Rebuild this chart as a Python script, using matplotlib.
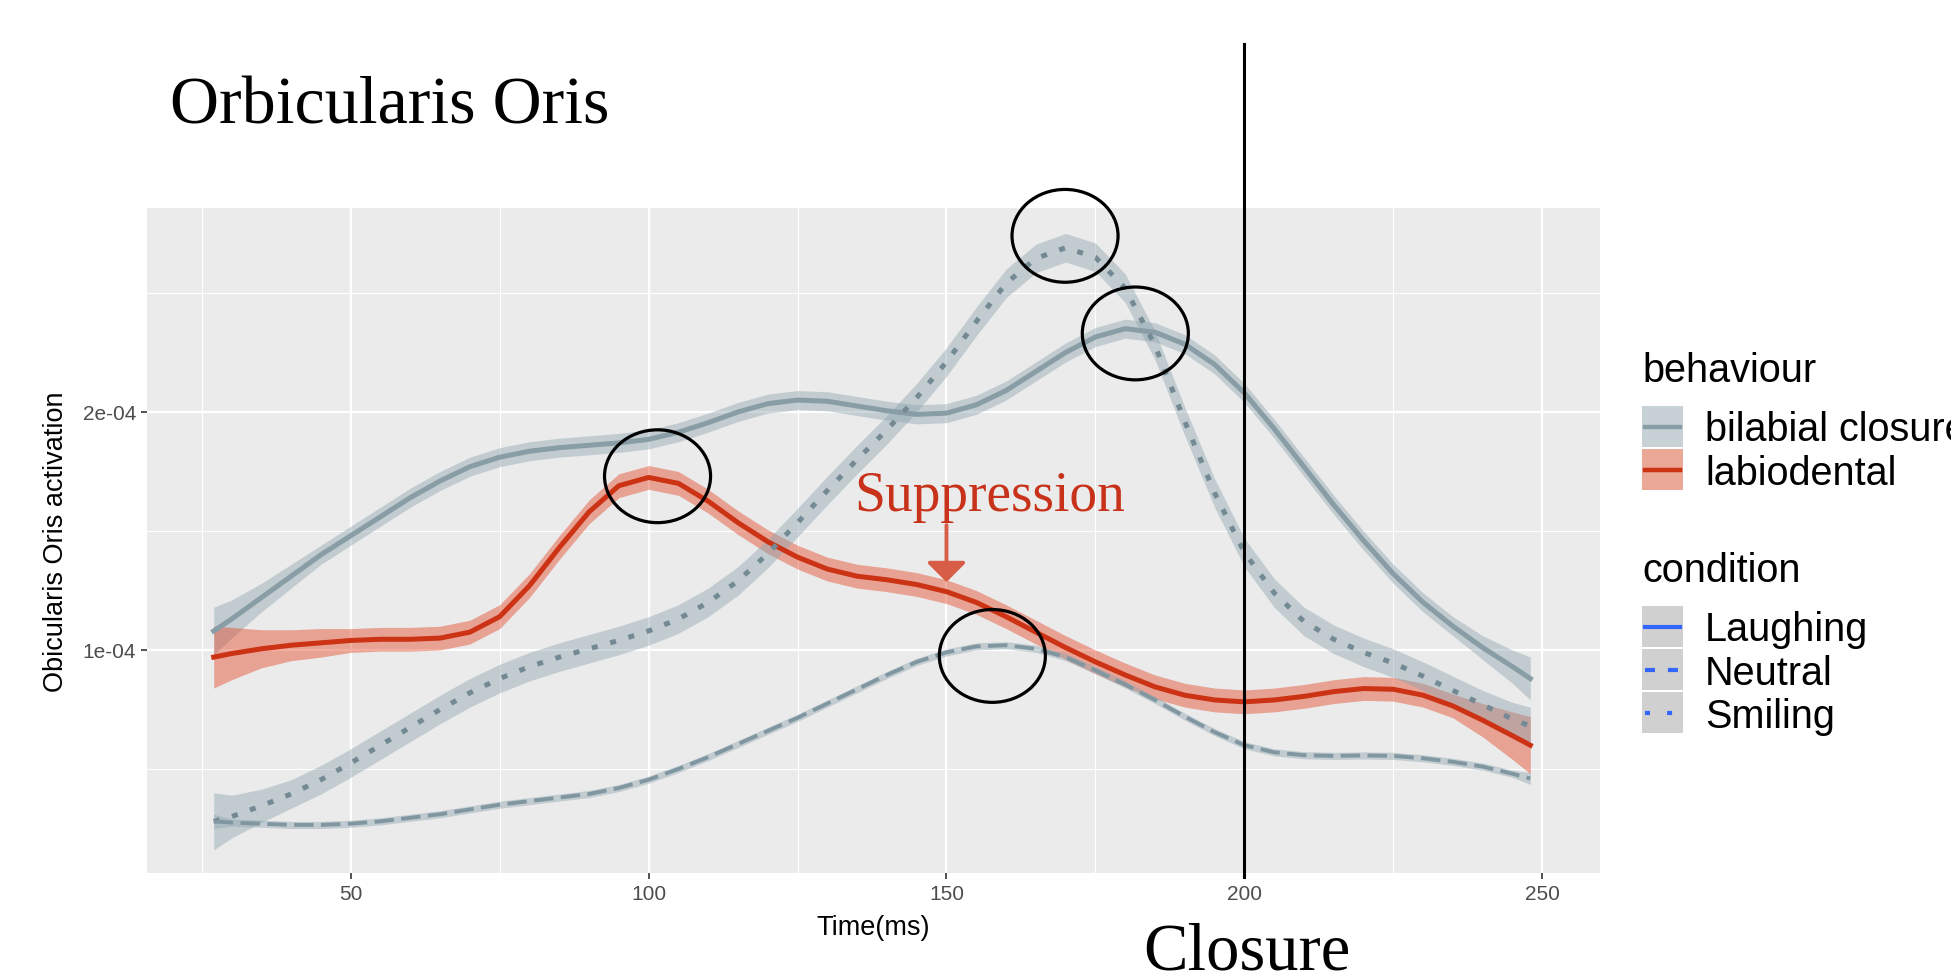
import numpy as np
import matplotlib
matplotlib.use("Agg")
import matplotlib.pyplot as plt
from matplotlib.patches import Ellipse, Rectangle
from matplotlib.lines import Line2D

# time axis (ms) shared by all smooths
time_ms = [27, 30, 35, 40, 45, 50, 55, 60, 65, 70, 75, 80, 85, 90, 95, 100,
           105, 110, 115, 120, 125, 130, 135, 140, 145, 150, 155, 160, 165, 170,
           175, 180, 185, 190, 195, 200, 205, 210, 215, 220, 225, 230, 235, 240,
           245, 248]

# activation in units of 1e-04
bilabial_laughing = [1.08, 1.13, 1.22, 1.31, 1.40, 1.48, 1.56, 1.64, 1.71, 1.77,
                     1.81, 1.835, 1.85, 1.86, 1.87, 1.885, 1.915, 1.955, 2.00, 2.035,
                     2.05, 2.045, 2.025, 2.005, 1.99, 1.995, 2.03, 2.09, 2.17, 2.25,
                     2.315, 2.35, 2.335, 2.285, 2.20, 2.08, 1.93, 1.77, 1.61, 1.46,
                     1.32, 1.20, 1.10, 1.01, 0.93, 0.88]
bilabial_laughing_se = [0.10, 0.08, 0.06, 0.05] + [0.04] * 39 + [0.05, 0.07, 0.09]

labiodental_laughing = [0.97, 0.985, 1.005, 1.02, 1.03, 1.04, 1.045, 1.045, 1.05, 1.075,
                        1.14, 1.27, 1.43, 1.58, 1.69, 1.725, 1.70, 1.625, 1.535, 1.455,
                        1.39, 1.34, 1.31, 1.295, 1.275, 1.245, 1.20, 1.14, 1.075, 1.01,
                        0.95, 0.895, 0.845, 0.81, 0.79, 0.782, 0.79, 0.805, 0.825, 0.838,
                        0.835, 0.81, 0.765, 0.705, 0.64, 0.60]
labiodental_laughing_se = [0.13, 0.11, 0.08, 0.065, 0.06] + [0.05] * 38 + [0.07, 0.10, 0.12]

bilabial_smiling = [0.28, 0.30, 0.345, 0.395, 0.455, 0.525, 0.60, 0.675, 0.75, 0.82,
                    0.88, 0.93, 0.97, 1.005, 1.04, 1.08, 1.13, 1.20, 1.29, 1.405,
                    1.535, 1.67, 1.80, 1.925, 2.06, 2.21, 2.38, 2.54, 2.645, 2.69,
                    2.65, 2.52, 2.28, 1.96, 1.66, 1.41, 1.24, 1.12, 1.045, 0.99,
                    0.945, 0.89, 0.83, 0.77, 0.71, 0.68]
bilabial_smiling_se = [0.12, 0.09, 0.07] + [0.06] * 41 + [0.07, 0.08]

bilabial_neutral = [0.28, 0.275, 0.27, 0.265, 0.265, 0.27, 0.28, 0.295, 0.31, 0.33,
                    0.35, 0.365, 0.38, 0.395, 0.42, 0.455, 0.50, 0.55, 0.605, 0.66,
                    0.715, 0.775, 0.835, 0.895, 0.95, 0.99, 1.015, 1.02, 1.005, 0.97,
                    0.915, 0.855, 0.79, 0.72, 0.655, 0.60, 0.57, 0.558, 0.555, 0.557,
                    0.555, 0.545, 0.53, 0.51, 0.48, 0.46]
bilabial_neutral_se = [0.03] + [0.015] * 44 + [0.025]

x_ticks = [50, 100, 150, 200, 250]
y_ticks = [1, 2]
closure_time = 200

# circled peaks: (time, activation)
circle_centres = [(101.5, 1.73), (169.9, 2.74), (181.7, 2.33), (157.7, 0.975)]

behaviour_labels = ["bilabial closure", "labiodental"]
condition_labels = ["Laughing", "Neutral", "Smiling"]

W, H = 1951, 979
BILAB = "#889da5"
BILAB_FILL = "#8fa6b0"
RED = "#cc3214"
RED_FILL = "#e44a2a"
BLUE = "#3366ff"


def fx(x):
    return x / W


def fy(y):
    return 1 - y / H


fig = plt.figure(figsize=(W / 100, H / 100), dpi=100)
ax = fig.add_axes([fx(147), fy(874), (1600 - 147) / W, (874 - 209) / H])
ax.set_facecolor("#ebebeb")
for s in ax.spines.values():
    s.set_visible(False)

t = np.array(time_ms)
series = [
    (bilabial_laughing, bilabial_laughing_se, BILAB, "-", 3.6),
    (labiodental_laughing, labiodental_laughing_se, RED, "-", 3.6),
    (bilabial_smiling, bilabial_smiling_se, "#738a94", (0, (1.2, 2.6)), 3.6),
    (bilabial_neutral, bilabial_neutral_se, "#8096a0", (0, (5.0, 1.9)), 2.8),
]
fills = [BILAB_FILL, RED_FILL, BILAB_FILL, BILAB_FILL]
for (y, se, col, ls, lw), fcol in zip(series, fills):
    y = np.array(y)
    se = np.array(se)
    ax.fill_between(t, y - se, y + se, color=fcol, alpha=0.45, lw=0, zorder=1)
for y, se, col, ls, lw in series:
    ax.plot(t, y, color=col, lw=lw, linestyle=ls, zorder=2,
            solid_joinstyle="round")

ax.set_xlim(15.8, 259.7)
ax.set_ylim(0.063, 2.857)
ax.set_xticks(x_ticks)
ax.set_xticks([25, 75, 125, 175, 225], minor=True)
ax.set_yticks(y_ticks)
ax.set_yticklabels(["%.0e" % (v * 1e-4) for v in y_ticks])
ax.set_yticks([0.5, 1.5, 2.5], minor=True)
ax.grid(which="major", color="white", lw=1.6)
ax.grid(which="minor", color="white", lw=0.8)
ax.set_axisbelow(True)
ax.tick_params(which="major", length=4, width=1.2, color="#333333",
               labelsize=15, labelcolor="#4d4d4d", pad=4)
ax.tick_params(which="minor", length=0)
for lab in ax.get_xticklabels() + ax.get_yticklabels():
    lab.set_family("Liberation Sans")

# circles around the peaks
for cx, cy in circle_centres:
    ax.add_patch(Ellipse((cx, cy), 17.8, 0.39, fill=False, ec="black", lw=2.3,
                         zorder=5, clip_on=False))

# closure line
ax.plot([closure_time, closure_time], [-0.006, 1.247], color="black", lw=2.2,
        transform=ax.get_xaxis_transform(), clip_on=False, zorder=6)

# suppression annotation
ax.text(134.5, 1.59, "Suppression", color="#c8321a", fontsize=40,
        family="Liberation Serif", ha="left", va="baseline", zorder=6)
ax.annotate("", xy=(150, 1.285), xytext=(150, 1.525),
            arrowprops=dict(arrowstyle="-|>,head_width=0.6,head_length=0.6",
                            color="#d75d47", lw=2.8, mutation_scale=20,
                            shrinkA=0, shrinkB=0), zorder=6)

# texts
fig.text(fx(170), fy(123), "Orbicularis Oris", fontsize=49,
         family="Liberation Serif", va="baseline", ha="left")
fig.text(fx(1247), fy(970), "Closure", fontsize=48,
         family="Liberation Serif", va="baseline", ha="center")
fig.text(fx(56), fy(542), "Obicularis Oris activation", fontsize=19.5,
         family="Liberation Sans", rotation=90, ha="center", va="center")
fig.text(fx(873), fy(928), "Time(ms)", fontsize=19.5,
         family="Liberation Sans", ha="center", va="center")

# legend
leg_fs = 28.5
kx0, kx1 = 1642, 1683


def key(y0, y1, fill, line_col, dash, lw):
    fig.add_artist(Rectangle((fx(kx0), fy(y1)), (kx1 - kx0) / W, (y1 - y0) / H,
                             transform=fig.transFigure, color=fill, lw=0))
    ym = fy((y0 + y1) / 2)
    ln = Line2D([fx(1645), fx(1680)], [ym, ym], transform=fig.transFigure,
                color=line_col, lw=lw)
    if dash is not None:
        ln.set_dashes(dash)
    fig.add_artist(ln)


fig.text(fx(1642), fy(382), "behaviour", fontsize=leg_fs,
         family="Liberation Sans", va="baseline")
key(407, 448, "#c8d2d6", BILAB, None, 3.2)
key(450, 491, "#eaa896", RED, None, 3.2)
for lab, base in zip(behaviour_labels, [441, 485]):
    fig.text(fx(1705), fy(base), lab, fontsize=leg_fs, family="Liberation Sans",
             va="baseline")

fig.text(fx(1642), fy(582), "condition", fontsize=leg_fs,
         family="Liberation Sans", va="baseline")
key(607, 648, "#d0d0d0", BLUE, None, 3.0)
key(650, 691, "#d0d0d0", BLUE, (2.4, 3.1), 3.0)
key(693, 734, "#d0d0d0", BLUE, (1.2, 4.1), 3.0)
for lab, base in zip(condition_labels, [641, 685, 728]):
    fig.text(fx(1705), fy(base), lab, fontsize=leg_fs, family="Liberation Sans",
             va="baseline")

fig.savefig("out.png", dpi=100)
